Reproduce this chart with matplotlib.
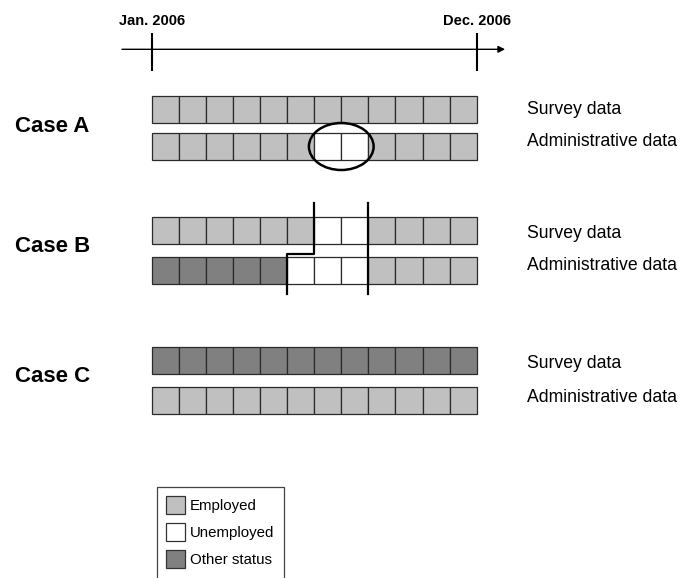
import matplotlib
matplotlib.use("Agg")
import matplotlib.pyplot as plt
from matplotlib.patches import Rectangle, Ellipse

plt.rcParams['font.family'] = ['Liberation Sans', 'DejaVu Sans']

# monthly status per row: E = employed, U = unemployed, O = other status
months = ['Jan', 'Feb', 'Mar', 'Apr', 'May', 'Jun', 'Jul', 'Aug', 'Sep', 'Oct', 'Nov', 'Dec']
cases = ['Case A', 'Case B', 'Case C']
survey = [
    ['E', 'E', 'E', 'E', 'E', 'E', 'E', 'E', 'E', 'E', 'E', 'E'],
    ['E', 'E', 'E', 'E', 'E', 'E', 'U', 'U', 'E', 'E', 'E', 'E'],
    ['O', 'O', 'O', 'O', 'O', 'O', 'O', 'O', 'O', 'O', 'O', 'O'],
]
admin = [
    ['E', 'E', 'E', 'E', 'E', 'E', 'U', 'U', 'E', 'E', 'E', 'E'],
    ['O', 'O', 'O', 'O', 'O', 'U', 'U', 'U', 'E', 'E', 'E', 'E'],
    ['E', 'E', 'E', 'E', 'E', 'E', 'E', 'E', 'E', 'E', 'E', 'E'],
]
row_labels = ['Survey data', 'Administrative data']
status_names = {'E': 'Employed', 'U': 'Unemployed', 'O': 'Other status'}
colors = {'E': '#c0c0c0', 'U': '#ffffff', 'O': '#808080'}

# layout (x in months, y in pixels from top)
cell_px = 27.08
x0_px = 151.7
row_h = 27
survey_top = [96, 217, 347]
admin_top = [132.5, 257, 387]
case_y = [127, 247, 377]
lab_y = [[110, 142], [234, 266], [364, 398]]

fig = plt.figure(figsize=(6.8, 5.78), dpi=100)
ax = fig.add_axes([0, 0, 1, 1])
ax.set_xlim(-x0_px / cell_px, (680 - x0_px) / cell_px)
ax.set_ylim(578, 0)
ax.axis('off')

# timeline
ax.annotate('', xy=(13.05, 49.3), xytext=(-1.1, 49.3),
            arrowprops=dict(arrowstyle='-|>', color='black', lw=1.0,
                            mutation_scale=10, shrinkA=0, shrinkB=0))
for m, lab in [(0, 'Jan. 2006'), (12, 'Dec. 2006')]:
    ax.plot([m, m], [33, 71], color='black', lw=1.5, solid_capstyle='butt')
    ax.text(m, 25, lab, ha='center', va='baseline', fontsize=10.5, fontweight='bold')

for c in range(len(cases)):
    for top, row in [(survey_top[c], survey[c]), (admin_top[c], admin[c])]:
        for i, s in enumerate(row):
            ax.add_patch(Rectangle((i, top), 1, row_h, facecolor=colors[s],
                                   edgecolor='#2a2a2a', lw=0.9))
    ax.text(-3.67, case_y[c], cases[c], ha='center', va='center',
            fontsize=16, fontweight='bold')
    for k in range(2):
        ax.text(13.86, lab_y[c][k], row_labels[k], ha='left', va='center', fontsize=12.7)

# Case A: circle around the disagreeing months
ax.add_patch(Ellipse((7.0, admin_top[0] + row_h / 2 + 0.5), 2.39, 47,
                     facecolor='none', edgecolor='black', lw=1.8))

# Case B: spell boundaries
ax.plot([6, 6, 5, 5], [203, 253.5, 253.5, 294], color='black', lw=1.6)
ax.plot([8, 8], [203, 294], color='black', lw=1.6)

# legend (box runs off the bottom)
lx0 = (157.3 - x0_px) / cell_px
lx1 = (284 - x0_px) / cell_px
ax.add_patch(Rectangle((lx0, 486.7), lx1 - lx0, 120, facecolor='none',
                       edgecolor='#444444', lw=0.9))
for k, s in enumerate(['E', 'U', 'O']):
    top = 496 + k * 27.2
    ax.add_patch(Rectangle(((166 - x0_px) / cell_px, top), 19 / cell_px, 18,
                           facecolor=colors[s], edgecolor='#333333', lw=0.9))
    ax.text((190 - x0_px) / cell_px, top + 10, status_names[s], ha='left',
            va='center', fontsize=10.8)

fig.savefig('out.png', dpi=100)
